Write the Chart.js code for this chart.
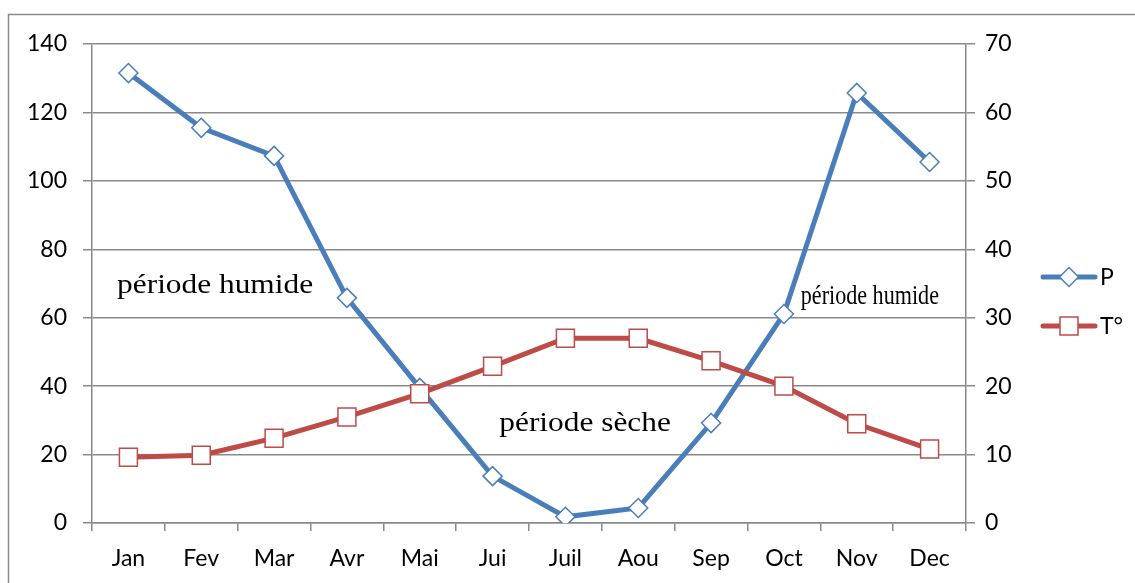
<!DOCTYPE html>
<html>
<head>
<meta charset="utf-8">
<script src="https://cdn.jsdelivr.net/npm/chart.js@4.4.1/dist/chart.umd.min.js"></script>
<style>
  html, body { margin: 0; padding: 0; background: #fff; }
  #wrap { width: 1135px; height: 583px; position: relative; }
</style>
</head>
<body>
<div id="wrap"><canvas id="c"></canvas></div>
<script>
// months
const months = ['Jan', 'Fev', 'Mar', 'Avr', 'Mai', 'Jui', 'Juil', 'Aou', 'Sep', 'Oct', 'Nov', 'Dec'];
// precipitation (left axis)
const precip = [131.5, 115.5, 107.3, 65.8, 39.5, 13.7, 1.8, 4.4, 29.2, 61.1, 125.7, 105.5];
// temperature (right axis)
const temp = [9.6, 9.9, 12.4, 15.5, 18.9, 22.9, 27.0, 27.0, 23.7, 20.0, 14.5, 10.8];
const leftTicks = [0, 140, 20];
const rightTicks = [0, 70, 10];

const blue = '#4A7EBB';
const red = '#BE4B48';
const grey = '#8a8a8a';

// text notes, placed in data coords (category index, left-axis value)
const notes = [
  { text: 'période humide', x: 1.19, y: 69.4, sx: 1.12 },
  { text: 'période sèche', x: 6.27, y: 29.0, sx: 1.12 },
  { text: 'période humide', x: 10.18, y: 66.2, sx: 0.79 }
];

function marker(ctx, type, x, y, color) {
  ctx.save();
  ctx.fillStyle = '#fff';
  ctx.strokeStyle = color;
  ctx.lineWidth = 1.5;
  ctx.beginPath();
  if (type === 'rectRot') {
    const r = 9.5;
    ctx.moveTo(x - r, y); ctx.lineTo(x, y - r); ctx.lineTo(x + r, y); ctx.lineTo(x, y + r);
    ctx.closePath();
  } else {
    const h = 9;
    ctx.rect(x - h, y - h, 2 * h, 2 * h);
  }
  ctx.fill();
  ctx.stroke();
  ctx.restore();
}

const extras = {
  id: 'extras',
  beforeDraw(chart) {
    const ctx = chart.ctx;
    ctx.save();
    ctx.strokeStyle = grey;
    ctx.lineWidth = 1.5;
    ctx.strokeRect(8.5, 14.5, 1300, 700);
    ctx.restore();
  },
  afterDraw(chart) {
    const ctx = chart.ctx;
    const xs = chart.scales.x, ys = chart.scales.y;
    ctx.save();
    ctx.fillStyle = '#000';
    ctx.font = '28px "Liberation Serif"';
    ctx.textAlign = 'center';
    ctx.textBaseline = 'middle';
    notes.forEach(n => {
      const px = xs.getPixelForValue(n.x), py = ys.getPixelForValue(n.y);
      ctx.save();
      ctx.translate(px, py);
      ctx.scale(n.sx, 1);
      ctx.fillText(n.text, 0, 0);
      ctx.restore();
    });
    // legend
    const items = [
      { label: 'P', color: blue, type: 'rectRot', y: 277 },
      { label: 'T°', color: red, type: 'rect', y: 326 }
    ];
    ctx.font = '23px Lato';
    ctx.textAlign = 'left';
    items.forEach(it => {
      ctx.strokeStyle = it.color;
      ctx.lineWidth = 5;
      ctx.lineCap = 'round';
      ctx.beginPath();
      ctx.moveTo(1043, it.y);
      ctx.lineTo(1095, it.y);
      ctx.stroke();
      marker(ctx, it.type, 1069, it.y, it.color);
      ctx.fillStyle = '#000';
      ctx.fillText(it.label, 1100, it.y + 1);
    });
    ctx.restore();
  }
};

const tickFont = { family: 'Lato', size: 23 };

new Chart(document.getElementById('c'), {
  type: 'line',
  data: {
    labels: months,
    datasets: [
      {
        label: 'P', data: precip, yAxisID: 'y', order: 1,
        borderColor: blue, borderWidth: 5, backgroundColor: '#fff',
        pointStyle: 'rectRot', pointRadius: 9.5, pointBorderWidth: 1.5,
        pointBorderColor: blue, pointBackgroundColor: '#fff', tension: 0
      },
      {
        label: 'T°', data: temp, yAxisID: 'y1', order: 0,
        borderColor: red, borderWidth: 5, backgroundColor: '#fff',
        pointStyle: 'rect', pointRadius: 12.7, pointBorderWidth: 1.5,
        pointBorderColor: red, pointBackgroundColor: '#fff', tension: 0
      }
    ]
  },
  options: {
    responsive: true,
    maintainAspectRatio: false,
    animation: false,
    layout: { padding: { top: 44, left: 0, right: 0, bottom: 0 } },
    plugins: {
      legend: { display: false },
      tooltip: { enabled: false }
    },
    scales: {
      x: {
        offset: true,
        grid: { offset: true, drawOnChartArea: false, drawTicks: true, tickLength: 8, color: grey, lineWidth: 1.5 },
        border: { color: grey, width: 1.5 },
        ticks: { font: tickFont, color: '#000', padding: 14, maxRotation: 0 },
        afterFit: s => { s.height = 60; }
      },
      y: {
        position: 'left',
        min: leftTicks[0], max: leftTicks[1],
        ticks: { stepSize: leftTicks[2], font: tickFont, color: '#000', padding: 16 },
        grid: { color: grey, lineWidth: 1.5, tickLength: 9 },
        border: { color: grey, width: 1.5 },
        afterFit: s => { s.width = 92; }
      },
      y1: {
        position: 'right',
        min: rightTicks[0], max: rightTicks[1],
        ticks: { stepSize: rightTicks[2], font: tickFont, color: '#000', padding: 10 },
        grid: { drawOnChartArea: false, color: grey, lineWidth: 1.5, tickLength: 9 },
        border: { color: grey, width: 1.5 },
        afterFit: s => { s.width = 169; }
      }
    }
  },
  plugins: [extras]
});
</script>
</body>
</html>
